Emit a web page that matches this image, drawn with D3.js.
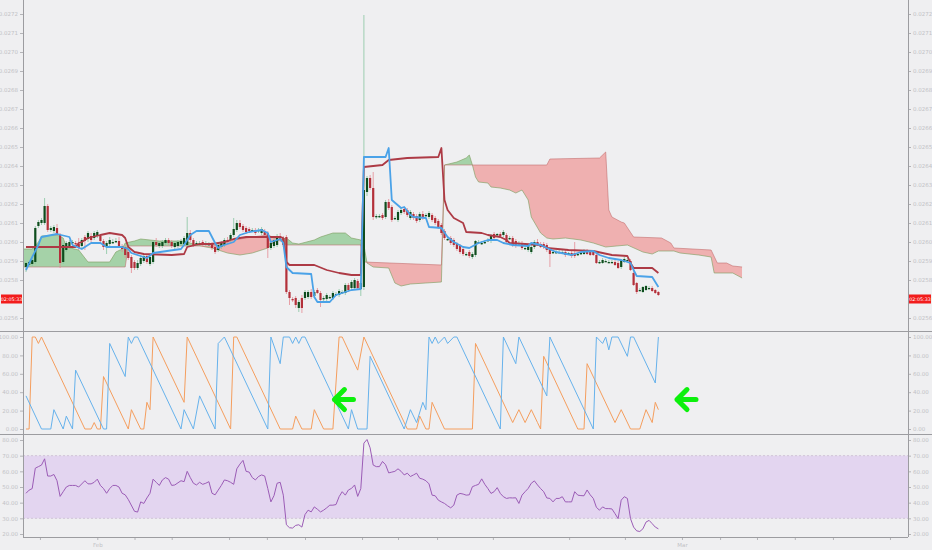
<!DOCTYPE html>
<html>
<head>
<meta charset="utf-8">
<script src="https://cdn.jsdelivr.net/npm/d3@7"></script>
<style>
  body { margin: 0; background: #efeff1; }
  svg { display: block; font-family: "DejaVu Sans", sans-serif; }
</style>
</head>
<body>
<svg id="chart" width="932" height="550"></svg>
<script>
// ---- data (bar index based, price in chart units) ----
// candles: [open, high, low, close]
var candles = [
  [63,68,58,67],[65,69,63,68],[66,72,64,70],[68,104,66,102],[104,110,102,108],
  [107,112,105,110],[107,132,105,124],[124,126,98,100],[100,104,98,102],[99,105,97,103],
  [102,106,94,95],[95,97,62,67],[68,87,66,85],[80,89,78,87],[84,90,82,88],
  [87,90,85,88],[87,89,84,86],[86,92,80,82],[84,92,82,90],[93,95,80,89],
  [91,99,88,97],[94,97,88,90],[92,99,90,97],[94,100,92,98],[94,96,86,89],
  [89,91,80,83],[83,89,76,87],[86,93,84,90],[88,91,86,88],[89,92,87,89],
  [89,93,82,83],[84,86,78,81],[83,85,72,75],[78,80,70,72],[73,75,57,62],
  [68,70,60,62],[62,70,60,67],[66,74,64,72],[69,76,67,74],[74,76,66,68],
  [66,75,64,73],[68,90,66,88],[88,92,83,85],[84,89,82,87],[84,90,82,88],
  [87,92,85,90],[90,92,85,87],[88,90,82,84],[83,89,80,87],[84,90,82,88],
  [86,91,84,89],[86,94,84,92],[85,113,83,97],[97,100,88,90],[90,92,83,85],
  [86,89,84,87],[87,89,85,87],[88,90,83,85],[86,89,84,87],[86,88,84,86],
  [86,88,80,82],[83,85,76,78],[80,87,78,85],[83,89,81,87],[85,92,83,90],
  [90,93,86,88],[90,97,88,95],[95,112,93,101],[100,110,98,107],[107,110,101,103],
  [104,106,98,100],[102,104,96,98],[101,103,98,99],[100,102,98,100],[100,102,95,97],
  [99,102,97,100],[97,103,95,101],[99,101,93,95],[97,99,72,82],[82,89,80,87],
  [84,92,82,90],[85,96,83,94],[94,97,88,90],[92,94,83,85],[93,95,36,38],
  [38,40,25,32],[31,33,28,30],[32,34,22,25],[22,30,18,28],[32,35,17,22],
  [32,40,30,38],[33,40,31,38],[38,41,31,33],[34,40,32,38],[40,42,36,37],
  [37,39,23,30],[31,34,29,32],[31,37,29,35],[33,35,31,33],[32,39,30,37],
  [36,38,34,36],[35,41,33,39],[38,40,36,38],[37,47,35,45],[45,47,38,40],
  [42,50,40,48],[42,52,40,50],[49,51,40,42],[41,49,34,47],[43,315,40,140],
  [138,154,134,152],[152,155,140,142],[142,158,110,113],[114,116,111,114],[114,116,112,114],
  [115,117,110,112],[113,130,111,128],[128,131,120,122],[123,125,108,110],[112,114,110,112],
  [110,120,108,118],[117,122,115,120],[121,123,116,118],[120,122,113,115],[112,120,110,118],
  [116,118,110,112],[114,116,107,109],[110,118,108,116],[116,119,110,112],[114,117,113,115],
  [113,119,111,117],[115,117,108,110],[112,114,105,107],[109,111,101,103],[105,107,95,97],
  [99,101,90,92],[91,93,89,91],[92,94,85,87],[90,92,83,85],[86,88,79,81],
  [84,86,76,78],[81,83,74,76],[76,78,74,76],[78,80,72,74],[73,78,71,76],
  [75,90,73,89],[88,90,86,88],[87,89,85,87],[87,90,86,88],[89,92,88,90],
  [89,96,87,94],[96,98,90,92],[95,97,94,96],[96,98,93,94],[95,100,93,98],
  [95,97,86,88],[91,94,90,92],[92,94,83,85],[89,91,82,84],[87,89,85,87],
  [87,89,80,82],[82,84,80,82],[80,86,78,84],[78,85,76,83],[83,90,81,88],
  [88,91,84,85],[86,88,82,83],[86,88,81,83],[85,87,78,80],[80,82,63,76],
  [77,80,76,78],[78,80,76,78],[78,80,77,78],[78,80,76,78],[78,80,73,75],
  [76,78,75,77],[77,79,72,74],[77,88,72,74],[75,77,74,76],[76,78,75,77],
  [76,81,75,79],[79,81,75,76],[78,80,74,75],[78,80,74,75],[75,77,66,67],
  [67,70,66,68],[67,72,66,70],[69,71,68,69],[68,70,67,68],[68,70,67,68],
  [68,70,64,65],[67,69,61,62],[63,71,61,70],[68,73,67,71],[70,72,69,70],
  [69,71,59,60],[57,59,44,45],[47,48,36,38],[40,42,39,40],[38,44,37,43],
  [40,45,39,44],[42,44,41,42],[42,44,38,39],[40,41,36,37],[38,39,34,35]
];

// Ichimoku lines, [bar, value] vertices
var tenkan = [[0,60],[2,73],[4,85],[5,93],[10,96],[14,93],[15,85],[18,81],[20,85],[21,87],[24,87],[26,83],[31,83],[33,81],[34,77],[37,74],[39,72],[41,77],[50,81],[51,85],[53,95],[55,99],[59,99],[61,87],[62,82],[63,84],[67,88],[69,95],[72,98],[76,100],[78,97],[79,88],[82,91],[83,87],[84,63],[86,57],[92,56],[93,33],[94,28],[98,28],[100,35],[105,40],[108,41],[109,173],[116,173],[117,182],[118,130],[121,122],[122,123],[124,115],[125,113],[129,112],[130,103],[134,102],[136,93],[138,88],[141,83],[143,82],[146,87],[149,90],[152,90],[154,87],[157,85],[162,84],[163,87],[166,85],[168,82],[171,78],[176,75],[179,78],[183,79],[185,75],[188,72],[192,70],[195,67],[196,60],[197,54],[202,53],[204,43]];
var kijun = [[0,83],[16,83],[17,87],[18,88],[20,92],[24,95],[27,97],[31,95],[32,92],[33,83],[35,78],[38,76],[47,75],[51,76],[52,83],[56,86],[60,86],[64,88],[67,91],[71,93],[82,93],[83,92],[84,68],[85,65],[93,65],[97,60],[101,57],[105,55],[108,55],[109,163],[115,165],[117,170],[123,172],[133,173],[134,182],[135,130],[136,120],[138,112],[141,107],[142,98],[147,97],[149,95],[153,93],[155,90],[156,87],[166,85],[168,82],[175,80],[183,79],[186,77],[189,75],[194,74],[195,67],[196,62],[202,62],[204,57]];
var spanA = [[-1,81],[2,81],[4,88],[5,94],[10,95],[12,92],[13,83],[17,80],[19,72],[20,68],[27,68],[29,78],[31,81],[32,87],[35,89],[37,91],[40,90],[43,89],[51,89],[54,86],[58,83],[60,82],[62,80],[65,77],[69,75],[73,77],[78,82],[80,88],[84,92],[86,87],[88,86],[93,90],[95,93],[99,97],[103,97],[105,92],[108,90],[109,85],[110,67],[112,63],[117,62],[119,47],[121,44],[124,46],[129,47],[134,48],[135,165],[139,168],[142,172],[143,175],[144,165],[145,153],[146,148],[149,147],[150,143],[153,142],[156,140],[158,137],[160,140],[162,130],[163,113],[166,97],[168,92],[170,91],[174,92],[179,90],[183,87],[187,83],[194,85],[199,78],[202,76],[204,79],[209,79],[211,77],[217,75],[221,73],[222,57],[228,57],[231,52]];
var spanB = [[-1,63],[32,63],[33,84],[37,84],[51,84],[60,84],[62,85],[67,90],[73,93],[78,95],[82,90],[84,85],[108,85],[109,68],[134,65],[135,165],[168,165],[169,171],[185,172],[187,178],[188,120],[189,113],[192,108],[193,107],[196,93],[205,92],[208,87],[209,82],[221,80],[223,67],[226,67],[228,64],[231,63]];

// Aroon (14)
var aroonUp = [[0,0],[1,0],[2,100],[3,100],[4,93],[5,100],[19,0],[21,0],[22,7],[23,0],[24,0],[25,57],[33,0],[34,21],[37,0],[38,0],[39,29],[40,21],[41,100],[51,29],[52,100],[66,0],[67,100],[68,100],[82,0],[86,0],[87,14],[89,0],[92,0],[93,21],[96,0],[99,0],[101,100],[102,100],[107,64],[109,100],[123,0],[126,0],[127,14],[129,0],[130,0],[131,29],[135,0],[144,0],[145,93],[156,14],[157,7],[159,21],[161,7],[163,21],[165,7],[166,0],[167,79],[178,0],[180,0],[181,71],[190,7],[192,21],[195,0],[198,0],[200,21],[202,7],[203,29],[204,21]];
var aroonDown = [[0,36],[5,0],[8,0],[9,21],[12,0],[13,14],[15,0],[16,64],[25,0],[26,0],[27,93],[32,57],[33,100],[34,93],[35,100],[36,100],[50,0],[51,21],[52,14],[54,0],[56,36],[61,0],[62,93],[64,100],[78,0],[79,100],[82,71],[83,100],[85,100],[86,93],[87,100],[88,93],[89,100],[90,100],[104,0],[105,21],[107,0],[110,0],[111,79],[122,0],[124,21],[126,7],[128,29],[129,21],[130,100],[131,93],[132,100],[133,93],[135,100],[136,93],[138,100],[139,100],[153,0],[154,100],[158,71],[159,100],[168,36],[169,100],[183,0],[184,100],[186,93],[187,100],[188,86],[189,100],[191,100],[194,79],[195,100],[196,100],[203,50],[204,100]];

// RSI
var rsi = [[0,46],[1,48],[2,49],[3,62],[4,63],[5,64],[6,68],[7,57],[8,57],[9,58],[10,54],[11,44],[12,47],[13,50],[14,51],[15,51],[16,51],[17,50],[19,54],[20,52],[21,52],[22,53],[23,55],[24,51],[25,49],[26,46],[27,49],[28,51],[29,51],[30,50],[31,46],[32,45],[33,42],[35,34.5],[36,34],[37,40.5],[38,39.5],[39,43],[40,46],[41,55],[42,53],[43,51],[44,54.5],[45,56],[46,55],[47,51],[48,51.3],[50,54],[51,53.4],[52,60],[53,56],[54,52.4],[55,51.3],[56,53],[57,51.7],[58,52.4],[59,53.4],[60,46],[61,45],[62,48],[63,51],[64,54.5],[65,54],[66,53],[67,51.7],[68,61.6],[69,64.6],[70,67],[71,60],[72,59.5],[73,56],[74,54.5],[75,56.7],[76,57.7],[77,57],[78,49],[79,40.5],[80,44.5],[81,52.4],[82,53],[83,44.8],[84,25.9],[85,24],[86,23.8],[87,25.5],[88,25.9],[89,24.4],[90,32.4],[91,35.2],[92,34.1],[93,37.3],[94,35.8],[95,34.1],[96,35.2],[97,36.7],[98,38.4],[99,38.4],[100,38.8],[101,43.8],[102,47],[103,44.8],[104,48.1],[105,49.1],[106,51.3],[107,44],[108,49],[109,78],[110,80.3],[111,75],[112,64],[113,63],[114,63],[115,66.3],[116,64.2],[117,59],[118,59.5],[119,60],[120,61.6],[121,60],[122,57.7],[123,58.8],[124,56.7],[125,57.7],[126,58.8],[127,55.6],[128,55],[129,54],[130,52],[131,44.8],[132,44.4],[133,41.6],[134,40.5],[135,39.5],[136,38],[137,36.7],[138,38.4],[139,44.8],[140,45.9],[141,45.5],[142,44.8],[143,45],[144,50.2],[145,51],[146,51.7],[147,55.2],[148,51.7],[149,49],[150,45.9],[151,47],[152,49.6],[153,45.9],[154,43.8],[155,42.7],[156,43.1],[157,43],[158,43.1],[159,39.5],[160,44.8],[161,47],[162,49.1],[163,52.4],[164,53.9],[165,51.3],[166,49],[167,47],[168,43],[169,42.7],[170,40.5],[171,42.7],[172,42.7],[173,43.8],[174,40.5],[175,40.5],[176,40.5],[177,47],[178,44.8],[179,44.5],[180,44.4],[181,48.1],[182,45],[183,42.7],[184,37],[185,35.2],[186,37.3],[187,36.2],[188,36.2],[189,36],[190,33],[191,29.8],[192,41.6],[193,43.8],[194,42.7],[195,29.8],[196,24.4],[197,22],[198,21.6],[199,23.3],[200,27.6],[201,28.7],[202,26.6],[203,24.4],[204,23.3]];

// annotation arrows in the Aroon pane: [bar, value]
var arrowMarks = [[99.5, 32], [210, 32]];

// axis ticks (the tick behind the last-price tag is hidden in the source)
var priceTicks = [316,297,278,259,240,221,202,183,164,145,126,107,88,69,50,12];
var priceTickLabels = ["0.0272","0.0271","0.0270","0.0269","0.0268","0.0267","0.0266","0.0265","0.0264","0.0263","0.0262","0.0261","0.0260","0.0259","0.0258","0.0256"];
var aroonTicks = [100,80,60,40,20,0];
var aroonTickLabels = ["100.00","80.00","60.00","40.00","20.00","0.00"];
var rsiTicks = [80,70,60,50,40,30,20];
var rsiTickLabels = ["80.00","70.00","60.00","50.00","40.00","30.00","20.00"];
var timeTicks = [4.5,23,35,47,65.5,77.7,90,108.4,120,132.6,150.6,175.2,193.2,211.6,223.9,235.8,248,260.3,278.7];
var timeTickLabels = ["","Feb","","","","","","","","","","","","Mar","","","","",""];
var lastPriceLabel = "02:05:33";
var lastPrice = 31;

// ---- chart ----
var W = 932, H = 550, left = 23, right = 908;
var mainTop = 0, mainBottom = 331, aroonBottom = 434, rsiBottom = 537;

var svg = d3.select('#chart');
svg.append('rect').attr('width', W).attr('height', H).attr('fill', '#efeff1');

var x = d3.scaleLinear().domain([0, 204]).range([26, 658.4]);
var yMain = d3.scaleLinear().domain([0, 330]).range([330, 0]);
var yAroon = d3.scaleLinear().domain([0, 100]).range([429, 337]);
var yRsi = d3.scaleLinear().domain([20, 80]).range([534, 440]);

var defs = svg.append('defs');
function clipRect(id, y0, y1) {
  defs.append('clipPath').attr('id', id).append('rect')
    .attr('x', left).attr('y', y0).attr('width', right - left).attr('height', y1 - y0);
}
clipRect('clipMain', mainTop, mainBottom);
clipRect('clipAroon', mainBottom, aroonBottom);
clipRect('clipRsi', aroonBottom, rsiBottom);

var areaDown = d3.area().x(d => x(d[0])).y0(mainBottom).y1(d => yMain(d[1]));
var areaUp = d3.area().x(d => x(d[0])).y0(mainTop).y1(d => yMain(d[1]));
defs.append('clipPath').attr('id', 'belowA').append('path').attr('d', areaDown(spanA));
defs.append('clipPath').attr('id', 'belowB').append('path').attr('d', areaDown(spanB));

var main = svg.append('g').attr('clip-path', 'url(#clipMain)');

// cloud: green where span A over span B, red otherwise
main.append('g').attr('clip-path', 'url(#belowA)')
  .append('path').attr('d', areaUp(spanB)).attr('fill', '#4caf50').attr('fill-opacity', 0.45);
main.append('g').attr('clip-path', 'url(#belowB)')
  .append('path').attr('d', areaUp(spanA)).attr('fill', '#ef5350').attr('fill-opacity', 0.4);

var lineMain = d3.line().x(d => x(d[0])).y(d => yMain(d[1]));
main.append('path').attr('d', lineMain(spanA)).attr('fill', 'none')
  .attr('stroke', '#7f9f62').attr('stroke-width', 0.8).attr('stroke-opacity', 0.8);
main.append('path').attr('d', lineMain(spanB)).attr('fill', 'none')
  .attr('stroke', '#c06868').attr('stroke-width', 0.8).attr('stroke-opacity', 0.7);

// candles
var bw = 2.2;
main.selectAll('line.wick').data(candles).enter().append('line').attr('class', 'wick')
  .attr('x1', (d, i) => x(i)).attr('x2', (d, i) => x(i))
  .attr('y1', d => yMain(d[1])).attr('y2', d => yMain(d[2]))
  .attr('stroke', d => d[3] >= d[0] ? '#86c4a0' : '#e48a93').attr('stroke-width', 0.8);
main.selectAll('rect.body').data(candles).enter().append('rect').attr('class', 'body')
  .attr('x', (d, i) => x(i) - bw / 2).attr('width', bw)
  .attr('y', d => yMain(Math.max(d[0], d[3])))
  .attr('height', d => Math.max(1.3, Math.abs(yMain(d[0]) - yMain(d[3]))))
  .attr('fill', d => d[3] >= d[0] ? '#0e4d1d' : '#b3303a');

// conversion / base lines
main.append('path').attr('d', lineMain(kijun)).attr('fill', 'none')
  .attr('stroke', '#ad3a45').attr('stroke-width', 1.8).attr('stroke-linejoin', 'round');
main.append('path').attr('d', lineMain(tenkan)).attr('fill', 'none')
  .attr('stroke', '#4aa2e8').attr('stroke-width', 1.8).attr('stroke-linejoin', 'round');

// Aroon pane
var aroon = svg.append('g').attr('clip-path', 'url(#clipAroon)');
var lineAroon = d3.line().x(d => x(d[0])).y(d => yAroon(d[1]));
aroon.append('path').attr('d', lineAroon(aroonUp)).attr('fill', 'none')
  .attr('stroke', '#f59e5e').attr('stroke-width', 1);
aroon.append('path').attr('d', lineAroon(aroonDown)).attr('fill', 'none')
  .attr('stroke', '#66b2ec').attr('stroke-width', 1);
arrowMarks.forEach(function(m) {
  var tx = x(m[0]), ty = yAroon(m[1]);
  aroon.append('path')
    .attr('d', 'M' + (tx + 10) + ',' + (ty - 10) + 'L' + tx + ',' + ty + 'L' + (tx + 10) + ',' + (ty + 10) +
      'M' + tx + ',' + ty + 'L' + (tx + 19) + ',' + ty)
    .attr('fill', 'none').attr('stroke', '#0cf00c').attr('stroke-width', 5)
    .attr('stroke-linecap', 'round').attr('stroke-linejoin', 'round');
});

// RSI pane
var rsiG = svg.append('g').attr('clip-path', 'url(#clipRsi)');
rsiG.append('rect').attr('x', left).attr('width', right - left)
  .attr('y', yRsi(70)).attr('height', yRsi(30) - yRsi(70)).attr('fill', '#e3d5f0');
[70, 30].forEach(function(v) {
  rsiG.append('line').attr('x1', left).attr('x2', right).attr('y1', yRsi(v)).attr('y2', yRsi(v))
    .attr('stroke', '#c9bcd2').attr('stroke-dasharray', '2,2').attr('stroke-width', 0.8);
});
var lineRsi = d3.line().x(d => x(d[0])).y(d => yRsi(d[1]));
rsiG.append('path').attr('d', lineRsi(rsi)).attr('fill', 'none')
  .attr('stroke', '#9b5cb6').attr('stroke-width', 1);

// axes
function styleAxis(g) {
  g.select('.domain').remove();
  g.attr('font-size', 5.5).attr('font-family', '"DejaVu Sans", sans-serif');
  g.selectAll('line').attr('stroke', '#b4b4b8');
  g.selectAll('text').attr('fill', '#c2c2c6');
}
function sideAxes(scale, ticks, labels) {
  svg.append('g').attr('transform', 'translate(' + left + ',0)')
    .call(d3.axisLeft(scale).tickValues(ticks).tickFormat((d, i) => labels[i]).tickSize(3).tickPadding(2))
    .call(styleAxis);
  svg.append('g').attr('transform', 'translate(' + right + ',0)')
    .call(d3.axisRight(scale).tickValues(ticks).tickFormat((d, i) => labels[i]).tickSize(3).tickPadding(2))
    .call(styleAxis);
}
sideAxes(yMain, priceTicks, priceTickLabels);
sideAxes(yAroon, aroonTicks, aroonTickLabels);
sideAxes(yRsi, rsiTicks, rsiTickLabels);

svg.append('g').attr('transform', 'translate(0,' + rsiBottom + ')')
  .call(d3.axisBottom(x).tickValues(timeTicks).tickFormat((d, i) => timeTickLabels[i]).tickSize(3).tickPadding(3))
  .call(styleAxis);

// frame
var frame = svg.append('g').attr('stroke', '#9c9ca0').attr('stroke-width', 1).attr('shape-rendering', 'crispEdges');
frame.append('line').attr('x1', left).attr('x2', left).attr('y1', 0).attr('y2', rsiBottom);
frame.append('line').attr('x1', right).attr('x2', right).attr('y1', 0).attr('y2', rsiBottom);
frame.append('line').attr('x1', 0).attr('x2', W).attr('y1', mainBottom).attr('y2', mainBottom);
frame.append('line').attr('x1', 0).attr('x2', W).attr('y1', aroonBottom).attr('y2', aroonBottom);
frame.append('line').attr('x1', left).attr('x2', right).attr('y1', rsiBottom).attr('y2', rsiBottom);

// last price tags
[[1, left - 1], [right + 1, W - 1]].forEach(function(b) {
  var yy = yMain(lastPrice);
  svg.append('rect').attr('x', b[0]).attr('y', yy - 4.5).attr('width', b[1] - b[0]).attr('height', 9)
    .attr('fill', '#f21c1c');
  svg.append('text').attr('x', (b[0] + b[1]) / 2).attr('y', yy + 2)
    .attr('text-anchor', 'middle').attr('font-size', 4.8).attr('fill', '#ffffff')
    .text(lastPriceLabel);
});
</script>
</body>
</html>
